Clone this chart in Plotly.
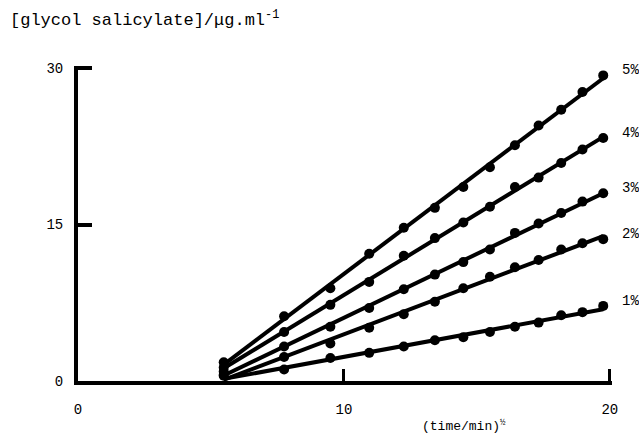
import numpy as np
import plotly.graph_objects as go

# sqrt(time/min) sampling points (30 ... 390 min)
sqrt_time = [5.48, 7.75, 9.49, 10.95, 12.25, 13.42, 14.49, 15.49, 16.43, 17.32, 18.17, 18.97, 19.75]

conc_5 = [1.8, 6.2, 8.9, 12.2, 14.7, 16.6, 18.6, 20.5, 22.6, 24.5, 26.0, 27.7, 29.3]
conc_4 = [1.3, 4.7, 7.3, 9.5, 12.0, 13.7, 15.2, 16.7, 18.6, 19.5, 20.9, 22.2, 23.3]
conc_3 = [0.9, 3.3, 5.2, 7.0, 8.8, 10.2, 11.4, 12.6, 14.2, 15.1, 16.1, 17.2, 18.0]
conc_2 = [0.6, 2.3, 3.6, 5.1, 6.4, 7.6, 8.9, 10.0, 10.9, 11.6, 12.6, 13.2, 13.6]
conc_1 = [0.5, 1.1, 2.2, 2.7, 3.3, 3.9, 4.2, 4.7, 5.2, 5.6, 6.3, 6.6, 7.2]

series_labels = ["5%", "4%", "3%", "2%", "1%"]
series_values = [conc_5, conc_4, conc_3, conc_2, conc_1]

x_ticks = [0, 10, 20]
y_ticks = [0, 15, 30]

FONT = "Liberation Mono"

fig = go.Figure()
xs = np.array(sqrt_time)
for label, vals in zip(series_labels, series_values):
    ys = np.array(vals)
    slope, icpt = np.polyfit(xs, ys, 1)
    xl = np.array([xs[0], xs[-1]])
    fig.add_trace(go.Scatter(x=xl, y=slope * xl + icpt, mode="lines",
                             line=dict(color="black", width=4),
                             showlegend=False, hoverinfo="skip"))
    fig.add_trace(go.Scatter(x=xs, y=ys, mode="markers",
                             marker=dict(color="black", size=10),
                             showlegend=False))
    fig.add_annotation(x=1.015, xref="paper", y=vals[-1], yref="y",
                       text=label, showarrow=False, xanchor="left",
                       yanchor="middle", yshift=5,
                       font=dict(family=FONT, size=14, color="black"))

fig.add_annotation(x=-0.1316, xref="paper", y=1.15, yref="paper",
                   text="[glycol salicylate]/\u03bcg.ml<sup>-1</sup>",
                   showarrow=False, xanchor="left", yanchor="middle",
                   font=dict(family=FONT, size=17, color="black"))
fig.add_annotation(x=0.722, xref="paper", y=-0.141, yref="paper",
                   text="(time/min)<sup>\u00bd</sup>",
                   showarrow=False, xanchor="center", yanchor="middle",
                   font=dict(family=FONT, size=13, color="black"))

fig.update_layout(
    width=639, height=438,
    margin=dict(l=78, r=27, t=66, b=57),
    paper_bgcolor="white", plot_bgcolor="white",
    font=dict(family=FONT, size=14, color="black"),
    xaxis=dict(range=[0, 20.08], tickvals=x_ticks, ticktext=[str(v) for v in x_ticks],
               showgrid=False, zeroline=False, showline=True, linecolor="black",
               linewidth=4, ticks="inside", ticklen=12, tickwidth=3, tickcolor="black",
               ticklabelstandoff=12),
    yaxis=dict(range=[0, 30.2], tickvals=y_ticks, ticktext=[str(v) for v in y_ticks],
               showgrid=False, zeroline=False, showline=True, linecolor="black",
               linewidth=4, ticks="inside", ticklen=14, tickwidth=4, tickcolor="black",
               ticklabelstandoff=8),
)

fig.write_html("out.html")
